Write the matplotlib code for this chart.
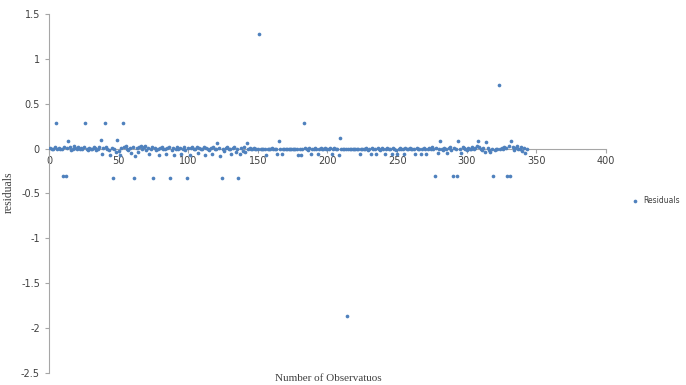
import matplotlib.pyplot as plt
import numpy as np

residuals = [
    0.01, 0.00, -0.01, 0.02, 0.28, 0.00, 0.01, -0.01, 0.00, -0.30,
    0.02, -0.30, 0.01, 0.08, 0.02, -0.02, 0.00, 0.03, 0.01, -0.01,
    0.02, 0.00, 0.01, -0.01, 0.02, 0.28, 0.00, -0.02, 0.01, 0.00,
    -0.01, 0.02, 0.01, -0.02, 0.00, 0.02, 0.10, -0.06, 0.01, 0.28,
    0.02, 0.00, -0.02, -0.07, 0.01, -0.33, 0.00, -0.04, 0.10, -0.03,
    -0.07, 0.01, 0.28, 0.02, 0.03, 0.00, -0.02, 0.01, -0.05, 0.02,
    -0.33, -0.08, 0.01, -0.04, 0.02, 0.03, -0.01, 0.02, 0.03, -0.02,
    0.01, -0.06, 0.00, 0.02, -0.33, 0.01, -0.02, 0.00, -0.07, 0.01,
    0.02, -0.01, 0.00, -0.06, 0.01, 0.02, -0.33, -0.02, 0.01, -0.07,
    0.00, 0.02, -0.01, 0.01, -0.06, 0.00, 0.02, -0.02, -0.33, 0.01,
    -0.07, 0.01, 0.02, -0.01, 0.00, 0.02, -0.05, 0.01, -0.01, 0.00,
    0.02, -0.07, 0.01, 0.00, -0.02, 0.01, -0.06, 0.02, 0.00, -0.01,
    0.06, 0.01, -0.08, -0.33, 0.00, -0.03, 0.01, 0.02, -0.01, 0.00,
    -0.06, 0.01, 0.02, -0.04, 0.00, -0.33, -0.06, 0.01, -0.03, 0.02,
    -0.04, 0.06, 0.00, 0.01, -0.01, 0.00, 0.01, -0.01, 0.00, 0.00,
    1.28, 0.00, -0.01, 0.00, 0.00, -0.07, 0.00, -0.01, 0.00, 0.01,
    0.00, -0.01, 0.00, -0.06, 0.08, 0.00, -0.06, 0.00, 0.00, -0.01,
    0.00, 0.00, 0.00, -0.01, 0.00, 0.00, 0.00, -0.01, -0.07, 0.00,
    -0.07, 0.00, 0.28, 0.01, 0.00, -0.02, 0.01, -0.06, 0.00, -0.01,
    0.01, 0.00, -0.06, 0.00, 0.01, -0.01, 0.00, 0.01, 0.00, -0.01,
    0.00, 0.01, -0.06, 0.00, 0.01, 0.00, -0.01, -0.07, 0.12, 0.00,
    -0.01, 0.00, 0.00, -1.87, 0.00, -0.01, 0.00, 0.00, 0.00, -0.01,
    0.00, 0.00, -0.06, 0.00, 0.00, -0.01, 0.00, 0.01, -0.02, 0.00,
    -0.06, 0.01, 0.00, -0.01, -0.06, 0.01, 0.00, -0.02, 0.01, 0.00,
    -0.06, 0.00, 0.01, -0.01, 0.00, -0.06, 0.01, 0.00, -0.02, -0.06,
    0.00, 0.01, -0.01, 0.00, -0.06, 0.01, 0.00, -0.01, 0.01, 0.00,
    -0.01, 0.00, -0.06, 0.01, 0.00, -0.01, -0.06, 0.00, 0.01, -0.01,
    -0.06, 0.00, 0.01, 0.00, 0.02, 0.00, -0.30, 0.01, -0.05, 0.00,
    0.08, 0.00, -0.02, 0.01, 0.00, -0.05, 0.01, 0.02, -0.02, -0.30,
    0.01, 0.00, -0.30, 0.08, 0.00, -0.05, 0.02, 0.01, 0.00, -0.02,
    0.01, 0.00, -0.01, 0.02, 0.00, 0.01, 0.03, 0.08, 0.02, 0.00,
    -0.02, 0.01, -0.04, 0.07, 0.01, -0.02, -0.04, 0.00, -0.30, -0.02,
    0.00, -0.01, 0.71, 0.00, 0.01, -0.01, 0.02, 0.01, -0.30, 0.03,
    -0.30, 0.08, 0.02, -0.02, 0.01, 0.03, -0.01, 0.00, 0.02, -0.03,
    0.01, -0.05, 0.00,
]
observations = np.arange(1, len(residuals) + 1)

x_ticks = [0, 50, 100, 150, 200, 250, 300, 350, 400]
y_ticks = [-2.5, -2, -1.5, -1, -0.5, 0, 0.5, 1, 1.5]

fig = plt.figure(figsize=(6.86, 3.85), dpi=100)
ax = fig.add_axes([0.0714, 0.031, 0.812, 0.933])

ax.scatter(observations, residuals, s=7, color='#4F81BD', linewidths=0,
           label='Residuals', zorder=3)

ax.set_xlim(0, 400)
ax.set_ylim(-2.5, 1.5)
ax.set_xticks(x_ticks)
ax.set_yticks(y_ticks)
ax.set_yticklabels(['-2.5', '-2', '-1.5', '-1', '-0.5', '0', '0.5', '1', '1.5'])

axis_grey = '#A6A6A6'
ax.spines['top'].set_visible(False)
ax.spines['right'].set_visible(False)
ax.spines['bottom'].set_position(('data', 0))
ax.spines['bottom'].set_color(axis_grey)
ax.spines['left'].set_color(axis_grey)
ax.tick_params(axis='both', colors=axis_grey, length=3, width=0.8,
               labelsize=7, labelcolor='#404040')
ax.tick_params(axis='x', pad=2)

fig.text(0.004, 0.5, 'residuals', rotation=90,
         ha='left', va='center', family='Liberation Serif', fontsize=8.5,
         color='#404040')
fig.text(0.478, 0.018, 'Number of Observatuos', ha='center', va='center',
         family='Liberation Serif', fontsize=8, color='#404040')

fig.legend(loc='center left', bbox_to_anchor=(0.905, 0.48), frameon=False,
           fontsize=5.5, handletextpad=0.1, markerscale=1.0, labelcolor='#404040')

fig.savefig('out.png', dpi=100)
